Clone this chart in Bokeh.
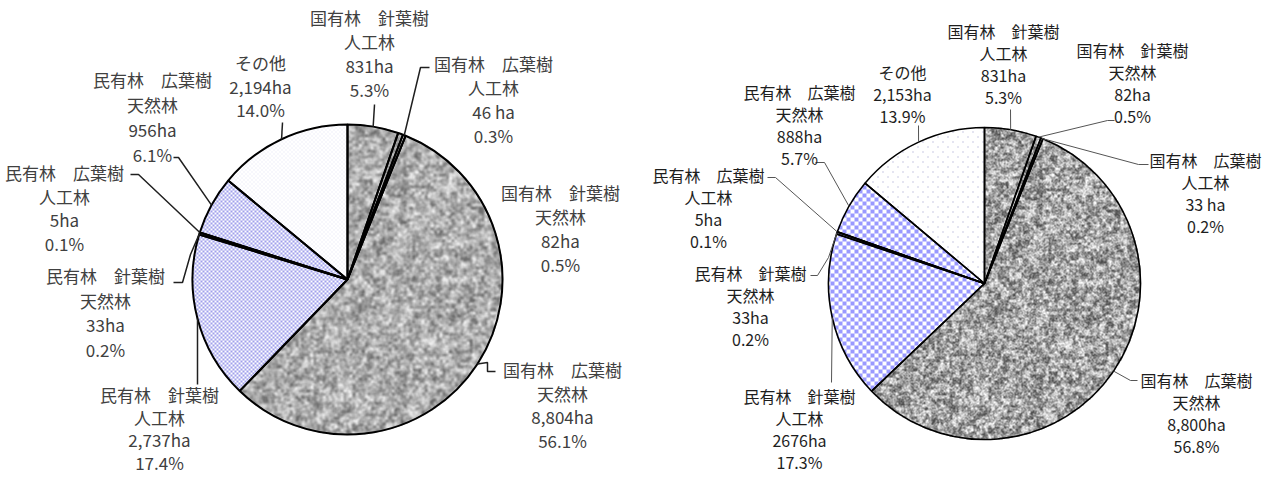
import math
import numpy as np
from bokeh.plotting import figure
from bokeh.models import Range1d
from bokeh.layouts import row
from bokeh.core.properties import value
from bokeh.embed import file_html
from bokeh.resources import INLINE

# ---------------- data ----------------
owner = ["国有林", "国有林", "国有林", "国有林", "民有林", "民有林", "民有林", "民有林", "その他"]
tree = ["針葉樹", "針葉樹", "広葉樹", "広葉樹", "針葉樹", "針葉樹", "広葉樹", "広葉樹", ""]
forest = ["人工林", "天然林", "人工林", "天然林", "人工林", "天然林", "人工林", "天然林", ""]

left_ha = [831, 82, 46, 8804, 2737, 33, 5, 956, 2194]
left_ha_text = ["831ha", "82ha", "46 ha", "8,804ha", "2,737ha", "33ha", "5ha", "956ha", "2,194ha"]
left_pct = [5.3, 0.5, 0.3, 56.1, 17.4, 0.2, 0.1, 6.1, 14.0]

right_ha = [831, 82, 33, 8800, 2676, 33, 5, 888, 2153]
right_ha_text = ["831ha", "82ha", "33 ha", "8,800ha", "2676ha", "33ha", "5ha", "888ha", "2,153ha"]
right_pct = [5.3, 0.5, 0.2, 56.8, 17.3, 0.2, 0.1, 5.7, 13.9]

# slice fill style group for each category
GROUP = ["granite"] * 4 + ["blue"] * 4 + ["other"]

PAGE_H = 492  # reference pixel rows; layout y values below are given from the top


# ---------------- texture helpers (fill styles) ----------------
def hash01(ix, iy, k):
    ix = ix.astype(np.uint64)
    iy = iy.astype(np.uint64)
    m = np.uint64(0xFFFFFFFF)
    n = (ix * np.uint64(374761393) + iy * np.uint64(668265263) + np.uint64(k * 1442695041)) & m
    n = ((n ^ (n >> np.uint64(13))) * np.uint64(1274126177)) & m
    n = n ^ (n >> np.uint64(16))
    return n.astype(np.float64) / 4294967296.0


def box_blur(a):
    p = np.pad(a, 1, mode="edge")
    s = sum(p[1 + dy:1 + dy + a.shape[0], 1 + dx:1 + dx + a.shape[1]]
            for dy in (-1, 0, 1) for dx in (-1, 0, 1))
    return s / 9.0


def granite(c, t, lo, hi, contrast, blur):
    v = (0.45 * hash01(c, t, 1) + 0.35 * hash01(c // 3, t // 3, 2)
         + 0.20 * hash01(c // 7, t // 7, 3))
    if blur:
        v = box_blur(v)
    v = np.clip(0.5 + (v - 0.5) * contrast, 0, 1)
    g = lo + (hi - lo) * v
    return g, g, g


def checker(c, t, cell, rgb):
    on = ((c // cell + t // cell) % 2) == 0
    r = np.where(on, rgb[0], 255)
    g = np.where(on, rgb[1], 255)
    b = np.where(on, rgb[2], 255)
    return r, g, b


def dots(c, t, per, rgb):
    h = per // 2
    on = (((c % per) == 1) & ((t % per) == 1)) | (((c % per) == 1 + h) & ((t % per) == 1 + h))
    r = np.where(on, rgb[0], 255)
    g = np.where(on, rgb[1], 255)
    b = np.where(on, rgb[2], 255)
    return r, g, b


LEFT = dict(
    cx=355, cy=287, r=155, x0=8, x1=632,
    font_size="17px", text_color="#404040",
    pie_line=2.0, leader_color="#202020", leader_w=1.5,
    tex=dict(
        granite=lambda c, t: granite(c, t, 110, 238, 1.9, True),
        blue=lambda c, t: checker(c, t, 2, (160, 160, 236)),
        other=lambda c, t: dots(c, t, 4, (226, 226, 244)),
    ),
    label_pos=[(377, 25), (568, 200), (501, 71), (570, 377), (167, 402),
               (113, 283), (72, 180), (160, 87), (268, 70)],
    label_gap=[24, 24, 24, 23.5, 22.5, 24.5, 23.5, 25, 23.5],
    leader_pts=[[(382, 112)], [], [(437, 75), (428, 75)],
                [(503, 379), (495, 379), (495, 370)], [(205, 392)],
                [(181, 290), (190, 290), (198, 262)], [(138, 182), (146, 182)],
                [(181, 165), (186, 165)], [(290, 130)]],
)

RIGHT = dict(
    cx=992, cy=291, r=156, x0=632, x1=1270,
    font_size="16px", text_color="#1e1e1e",
    pie_line=1.6, leader_color="#555555", leader_w=1.0,
    tex=dict(
        granite=lambda c, t: granite(c, t, 78, 252, 1.8, False),
        blue=lambda c, t: checker(c, t, 4, (153, 153, 255)),
        other=lambda c, t: dots(c, t, 10, (150, 150, 200)),
    ),
    label_pos=[(1011, 38), (1140, 57), (1213, 167), (1204, 387), (807, 403),
               (758, 280), (716, 182), (807, 99), (910, 79)],
    label_gap=[22.3] * 9,
    leader_pts=[[(1018, 117)], [(1122, 128), (1115, 128)], [(1156, 172), (1146, 172)],
                [(1145, 388), (1138, 388)], [(839, 390)],
                [(818, 283), (825, 283), (836, 265)], [(775, 185), (783, 185)],
                [(823, 170), (832, 170)], [(926, 133)]],
)


def Y(v):
    return PAGE_H - v


def make_pie(ha, ha_text, pct, L):
    p = figure(width=L["x1"] - L["x0"], height=476,
               x_range=Range1d(L["x0"], L["x1"]), y_range=Range1d(Y(484), Y(8)),
               output_backend="svg", toolbar_location=None,
               x_axis_type=None, y_axis_type=None, min_border=0)
    p.grid.visible = False
    p.outline_line_color = None
    p.background_fill_color = "white"
    p.border_fill_color = "white"

    cx, cy, r = L["cx"], Y(L["cy"]), L["r"]
    total = float(sum(ha))
    fr = np.cumsum(ha) / total
    fr0 = np.concatenate([[0.0], fr[:-1]])
    starts = list(math.pi / 2 - 2 * math.pi * fr0)
    ends = list(math.pi / 2 - 2 * math.pi * fr)
    mids = list(2 * math.pi * (fr0 + fr) / 2.0)

    # ---- textured pie body as a raster, slice membership from the data angles ----
    R = r + 2
    W = H = 2 * R
    cols = np.arange(W)
    rows_b = np.arange(H)  # from bottom
    C, J = np.meshgrid(cols, rows_b)
    T = (H - 1 - J)  # row from top, used for texture alignment
    dx = (cx - R + C + 0.5) - cx
    dy = (cy - R + J + 0.5) - cy
    dist = np.hypot(dx, dy)
    theta = np.mod(np.arctan2(dx, dy), 2 * math.pi) / (2 * math.pi)
    sl = np.clip(np.searchsorted(fr, theta, side="right"), 0, len(ha) - 1)
    rgb = np.full((H, W, 3), 255.0)
    for g in ("granite", "blue", "other"):
        tr, tg, tb = L["tex"][g](C, T)
        mask = np.isin(sl, [i for i, gg in enumerate(GROUP) if gg == g])
        rgb[..., 0] = np.where(mask, tr, rgb[..., 0])
        rgb[..., 1] = np.where(mask, tg, rgb[..., 1])
        rgb[..., 2] = np.where(mask, tb, rgb[..., 2])
    alpha = np.where(dist <= r + 0.5, 255, 0)
    img = np.zeros((H, W), dtype=np.uint32)
    view = img.view(dtype=np.uint8).reshape((H, W, 4))
    view[..., 0] = rgb[..., 0].astype(np.uint8)
    view[..., 1] = rgb[..., 1].astype(np.uint8)
    view[..., 2] = rgb[..., 2].astype(np.uint8)
    view[..., 3] = alpha.astype(np.uint8)
    p.image_rgba(image=[img], x=cx - R, y=cy - R, dw=W, dh=H)

    # ---- slice outlines ----
    p.wedge(x=cx, y=cy, radius=r, start_angle=starts, end_angle=ends,
            direction="clock", fill_color=None,
            line_color="black", line_width=L["pie_line"])

    # ---- leader lines ----
    xs, ys = [], []
    for i, th in enumerate(mids):
        pts = L["leader_pts"][i]
        if not pts:
            continue
        ax = cx + r * math.sin(th)
        ay = cy + r * math.cos(th)
        xs.append([q[0] for q in pts] + [ax])
        ys.append([Y(q[1]) for q in pts] + [ay])
    p.multi_line(xs=xs, ys=ys, line_color=L["leader_color"], line_width=L["leader_w"])

    # ---- labels ----
    tx, ty, tt = [], [], []
    for i in range(len(ha)):
        if owner[i] == "その他":
            lines = [owner[i], ha_text[i], "%.1f%%" % pct[i]]
        else:
            lines = [owner[i] + "　" + tree[i], forest[i], ha_text[i], "%.1f%%" % pct[i]]
        x0, y0 = L["label_pos"][i]
        for k, t in enumerate(lines):
            tx.append(x0)
            ty.append(Y(y0 + k * L["label_gap"][i]))
            tt.append(t)
    p.text(x=tx, y=ty, text=tt, text_align="center", text_baseline="middle",
           text_font=value("Noto Sans CJK JP"), text_font_size=value(L["font_size"]),
           text_color=L["text_color"])
    return p


p1 = make_pie(left_ha, left_ha_text, left_pct, LEFT)
p2 = make_pie(right_ha, right_ha_text, right_pct, RIGHT)
layout = row(p1, p2)

open("out.html", "w").write(file_html(layout, INLINE))
